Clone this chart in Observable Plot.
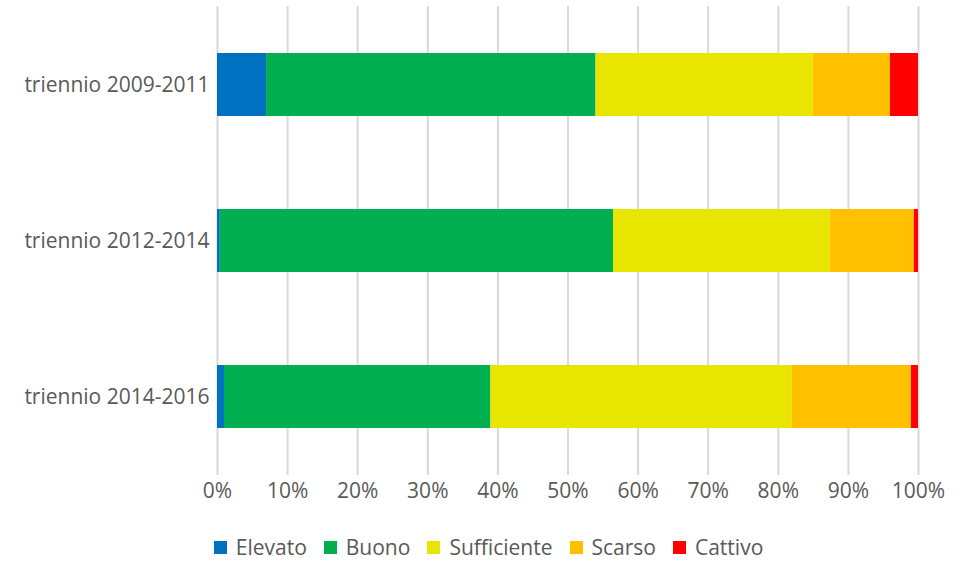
<!DOCTYPE html>
<html><head><meta charset="utf-8">
<script src="https://cdn.jsdelivr.net/npm/d3@7"></script>
<script src="https://cdn.jsdelivr.net/npm/@observablehq/plot@0.6"></script>
<style>
body{margin:0;background:#fff;font-family:"Open Sans",sans-serif;}
#legend{display:flex;justify-content:center;gap:17px;font-size:21px;color:#595959;margin-top:21px;padding-left:14px;}
#legend span.item{display:flex;align-items:center;gap:9px;}
#legend span.sw{width:13px;height:13px;display:inline-block;}
svg text{font-size:21px;}
</style></head>
<body><div id="chart"></div><div id="legend"></div>
<script>
const categories = ["triennio 2009-2011","triennio 2012-2014","triennio 2014-2016"];
const series = ["Elevato","Buono","Sufficiente","Scarso","Cattivo"];
const colors = ["#0070C0","#00B050","#E8E600","#FFC000","#FF0000"];
const elevato = [7, 0.4, 1];
const buono = [47, 56.1, 38];
const sufficiente = [31, 30.9, 43];
const scarso = [11, 12, 17];
const cattivo = [4, 0.6, 1];
const tickValues = [0,10,20,30,40,50,60,70,80,90,100];

const vals = [elevato,buono,sufficiente,scarso,cattivo];
const data = [];
categories.forEach((c,i)=>series.forEach((s,j)=>data.push({cat:c,series:s,value:vals[j][i]})));

const chart = Plot.plot({
  width:963, height:512,
  marginLeft:217, marginRight:45, marginTop:6, marginBottom:37,
  style:{fontFamily:"Open Sans, sans-serif", fontSize:"21px", color:"#595959", overflow:"visible"},
  x:{domain:[0,100], ticks:tickValues, tickFormat:d=>d+"%", tickSize:0, tickPadding:8, label:null},
  y:{domain:categories, paddingInner:0.596, paddingOuter:0.3, tickSize:0, tickPadding:8, label:null},
  color:{domain:series, range:colors},
  marks:[
    Plot.gridX(tickValues,{stroke:"#D9D9D9", strokeOpacity:1, strokeWidth:2}),
    Plot.barX(data, Plot.stackX({x:"value", y:"cat", fill:"series", order:series})),
  ]
});
document.getElementById("chart").appendChild(chart);
const lg = document.getElementById("legend");
series.forEach((s,i)=>{
  const it=document.createElement("span");it.className="item";
  it.innerHTML=`<span class="sw" style="background:${colors[i]}"></span>${s}`;
  lg.appendChild(it);
});
</script></body></html>
